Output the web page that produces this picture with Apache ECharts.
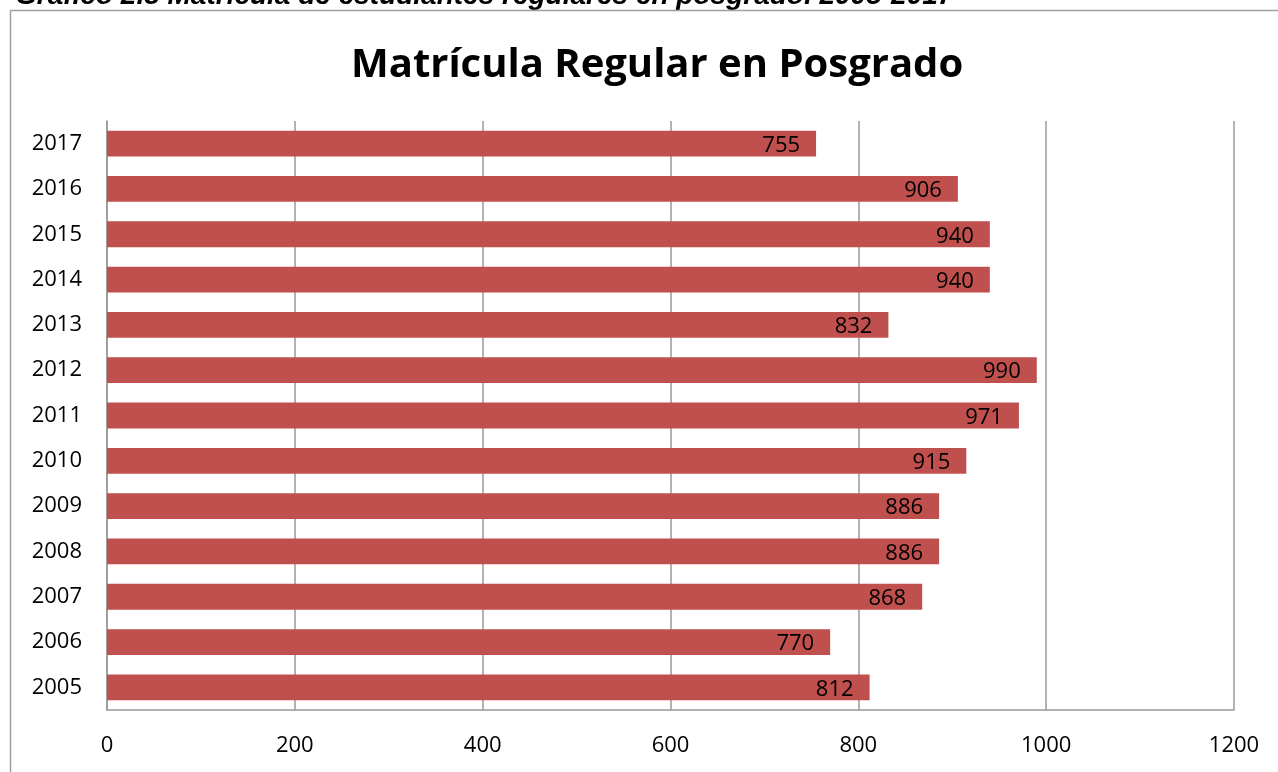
<!DOCTYPE html>
<html>
<head>
<meta charset="utf-8">
<script src="https://cdn.jsdelivr.net/npm/echarts@6/dist/echarts.min.js"></script>
<style>
  html, body { margin: 0; padding: 0; background: #fff; }
  #chart { width: 1278px; height: 772px; }
</style>
</head>
<body>
<div id="chart"></div>
<script>
// datos del gráfico
const years = ['2005', '2006', '2007', '2008', '2009', '2010', '2011', '2012', '2013', '2014', '2015', '2016', '2017']
const matricula = [812, 770, 868, 886, 886, 915, 971, 990, 832, 940, 940, 906, 755]
const xTicks = [0, 200, 400, 600, 800, 1000, 1200]

const chart = echarts.init(document.getElementById('chart'))

chart.setOption({
  backgroundColor: '#fff',
  animation: false,
  title: {
    text: 'Matrícula Regular en Posgrado',
    left: 346,
    top: 41,
    textStyle: { fontFamily: 'Open Sans', fontWeight: 'bold', fontSize: 40, color: '#000' }
  },
  graphic: [
    {
      type: 'text',
      left: 15,
      top: -18,
      style: {
        text: 'Gráfico 2.8 Matrícula de estudiantes regulares en posgrado. 2005-2017',
        font: 'italic bold 28px "Liberation Sans"',
        fill: '#000'
      }
    },
    {
      type: 'rect',
      shape: { x: 10.5, y: 10.5, width: 1300, height: 800 },
      style: { fill: 'none', stroke: '#a0a0a0', lineWidth: 1.5 },
      silent: true
    }
  ],
  grid: { left: 107, right: 44, top: 121, bottom: 62, containLabel: false },
  xAxis: {
    type: 'value',
    min: 0,
    max: 1200,
    interval: 200,
    axisLine: { show: true, lineStyle: { color: '#999', width: 1.5 } },
    axisTick: { show: false },
    axisLabel: {
      color: '#000', fontSize: 22, fontFamily: 'Open Sans', margin: 25,
      formatter: v => (xTicks.includes(v) ? String(v) : '')
    },
    splitLine: { show: true, lineStyle: { color: '#999', width: 1.5 } }
  },
  yAxis: {
    type: 'category',
    data: years,
    axisLine: { show: true, lineStyle: { color: '#999', width: 1.5 } },
    axisTick: { show: false },
    axisLabel: { color: '#000', fontSize: 22, fontFamily: 'Open Sans', margin: 25 }
  },
  series: [
    {
      type: 'bar',
      data: matricula,
      barWidth: '57%',
      itemStyle: { color: '#C0504D' },
      label: {
        show: true,
        position: 'insideRight',
        distance: 16,
        offset: [0, 2],
        color: '#000',
        fontSize: 22,
        fontFamily: 'Open Sans'
      }
    }
  ]
})
</script>
</body>
</html>
